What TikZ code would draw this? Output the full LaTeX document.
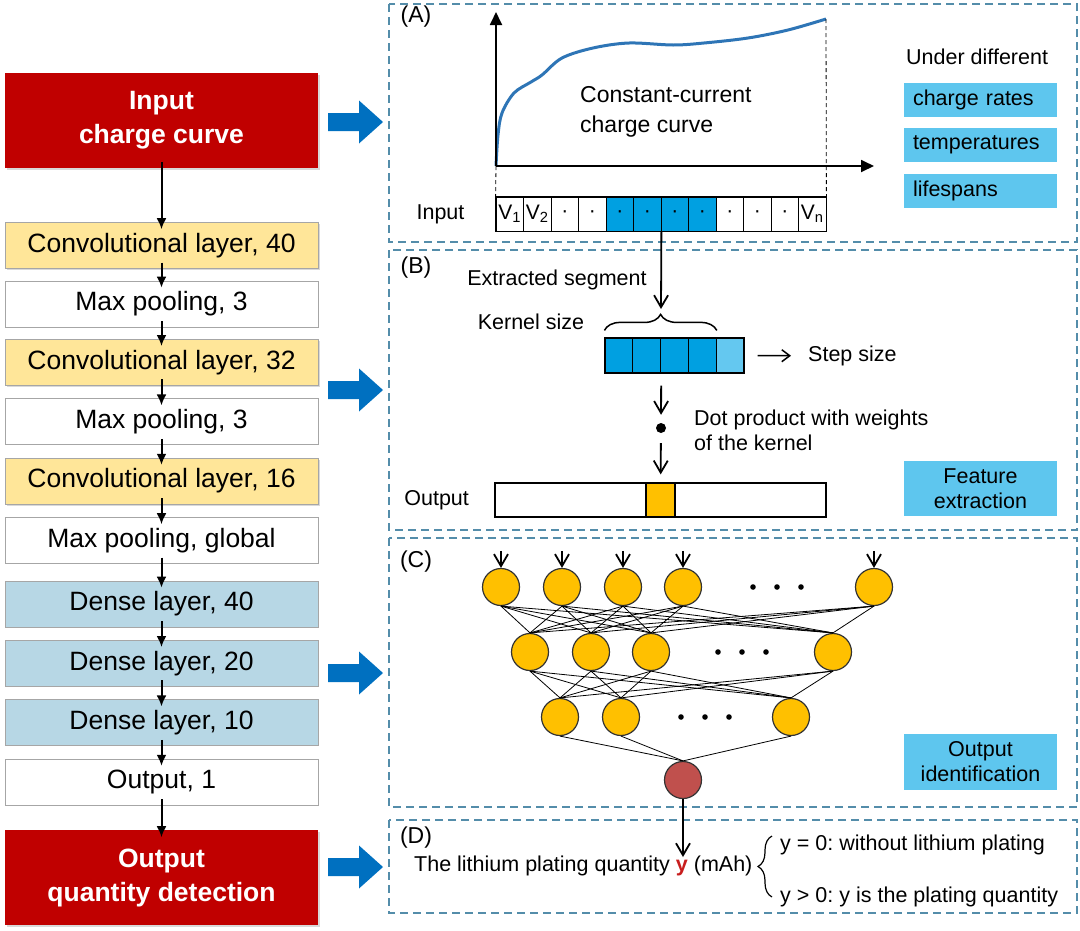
\documentclass[tikz,border=0pt]{standalone}
\usepackage{fontspec}
\setmainfont{Liberation Sans}
\usetikzlibrary{positioning,arrows.meta,decorations.pathreplacing,shadows}
\frenchspacing

\definecolor{iored}{RGB}{192,0,0}
\definecolor{convyellow}{RGB}{255,230,153}
\definecolor{denseblue}{RGB}{183,215,229}
\definecolor{arrowblue}{RGB}{0,112,192}
\definecolor{panelblue}{RGB}{84,141,170}
\definecolor{curveblue}{RGB}{46,117,182}
\definecolor{cellblue}{RGB}{0,160,225}
\definecolor{lightcell}{RGB}{100,200,240}
\definecolor{infoblue}{RGB}{94,198,238}
\definecolor{neuronorange}{RGB}{255,192,0}
\definecolor{outred}{RGB}{192,80,77}
\definecolor{yred}{RGB}{200,30,30}

\begin{document}
\begin{tikzpicture}
    [ x = 1pt, y = -1pt
    , box/.style =
      { draw=gray!70, minimum width=313pt, minimum height=46pt, inner sep=0pt
      , font=\fontsize{26.5}{30}\selectfont }
    , conv/.style =
      { box, fill=convyellow
      , drop shadow={shadow xshift=2pt, shadow yshift=-2pt, opacity=.3} }
    , pool/.style =
      { box, fill=white }
    , dense/.style =
      { box, fill=denseblue }
    , io/.style =
      { box, draw=none, fill=iored, text=white, minimum height=95pt, align=center
      , font=\fontsize{26.5}{34}\selectfont\bfseries
      , drop shadow={shadow xshift=2pt, shadow yshift=-2pt, opacity=.3} }
    , layerarrow/.style =
      { line width=2pt, -{Latex[length=11pt,width=10pt]}, shorten <=-6pt, shorten >=-7pt }
    , bigarrow/.style =
      { fill=arrowblue }
    , panel/.style =
      { draw=panelblue, dash pattern=on 8pt off 5pt, line width=1.4pt }
    , txt/.style =
      { inner sep=0pt, font=\fontsize{21.5}{25}\selectfont }
    , tag/.style =
      { inner sep=0pt, font=\fontsize{23}{25}\selectfont }
    , infobox/.style =
      { txt, fill=infoblue, text width=135pt, inner xsep=9pt, minimum height=34pt, align=left }
    , cell/.style =
      { draw, line width=.8pt, minimum width=27.5pt, minimum height=34pt, inner sep=0pt
      , font=\fontsize{21}{21}\selectfont }
    , axis/.style =
      { line width=1.8pt, -{Triangle[length=13pt,width=12pt]} }
    , curve/.style =
      { curveblue, line width=3pt }
    , guide/.style =
      { line width=.8pt, dash pattern=on 4pt off 3pt }
    , barb/.style =
      { line width=1.8pt, -{Straight Barb[length=12pt,width=14pt]} }
    , curly/.style =
      { line width=1.5pt, decorate }
    , neuron/.style =
      { draw=black!80, line width=1.2pt, circle, minimum size=37pt, inner sep=0pt, fill=neuronorange }
    , synapse/.style =
      { line width=.8pt }
    ]
    \useasboundingbox (0,0) rectangle (1080,930);

    % left column
    \node [io] (input) at (161.5,120.5) {Input\\charge curve};
    \node [conv] (conv1) [below=54pt of input] {Convolutional layer, 40};
    \node [pool] (pool1) [below=12pt of conv1] {Max pooling, 3};
    \node [conv] (conv2) [below=12pt of pool1] {Convolutional layer, 32};
    \node [pool] (pool2) [below=13pt of conv2] {Max pooling, 3};
    \node [conv] (conv3) [below=13pt of pool2] {Convolutional layer, 16};
    \node [pool] (pool3) [below=13pt of conv3] {Max pooling, global};
    \node [dense] (dense1) [below=17pt of pool3] {Dense layer, 40};
    \node [dense] (dense2) [below=13pt of dense1] {Dense layer, 20};
    \node [dense] (dense3) [below=13pt of dense2] {Dense layer, 10};
    \node [pool] (out) [below=13pt of dense3] {Output, 1};
    \node [io] (output) [below=25pt of out] {Output\\quantity detection};

    \foreach \a/\b in {input/conv1, conv1/pool1, pool1/conv2, conv2/pool2, pool2/conv3,
      conv3/pool3, pool3/dense1, dense1/dense2, dense2/dense3, dense3/out, out/output}
      \draw [layerarrow] (\a) -- (\b);

    \foreach \y in {122,390,673,867}
      \fill [bigarrow] (328,\y-9) -- (359,\y-9) -- (359,\y-21.5) -- (383,\y)
        -- (359,\y+21.5) -- (359,\y+9) -- (328,\y+9) -- cycle;

    % panels
    \draw [panel] (389,4) rectangle (1077,242);
    \draw [panel] (389,250) rectangle (1077,530);
    \draw [panel] (389,538) rectangle (1077,807);
    \draw [panel] (389,820) rectangle (1077,913);

    % (A)
    \node [tag] at (416,17) {(A)};
    \coordinate (origin) at (496,166);
    \coordinate (cend) at (826,19);
    \draw [curve] plot [smooth, tension=.55] coordinates
      {(496,166) (498,135) (502,113) (514,93) (531,82) (542,75) (562,58) (593,48)
       (629,43) (673,45) (704,43) (748,38) (788,30) (826,19)};
    \draw [axis] (origin) -- (496,12);
    \draw [axis] (origin) -- (874,166);
    \node [txt, anchor=west, align=left, font=\fontsize{23}{30}\selectfont] (cc) at (580,112)
      {Constant-current\\charge curve};

    \foreach \t/\c [count=\i] in {V\textsubscript{1}/white, V\textsubscript{2}/white,
      ·/white, ·/white, ·/cellblue, ·/cellblue, ·/cellblue, ·/cellblue,
      ·/white, ·/white, ·/white, V\textsubscript{n}/white}
      \node [cell, fill=\c] (in\i) at (496+27.5*\i-13.75,214) {\t};
    \draw [line width=1.8pt] (in1.north west) rectangle (in12.south east);
    \draw [guide] (origin) -- (in1.north west);
    \draw [guide] (cend) -- (in12.north east);
    \node [txt] (inlbl) [left=31pt of in1] {Input};

    \node [txt, anchor=west] (under) at (906,57) {Under different};
    \node [infobox] (rates) at (980.5,100) {charge rates};
    \node [infobox] (temps) at (980.5,145) {temperatures};
    \node [infobox] (lifes) at (980.5,190.5) {lifespans};

    % (B)
    \node [tag] at (416,268) {(B)};
    \node [txt] (segment) at (557,280) {Extracted segment};
    \foreach \c [count=\i] in {cellblue,cellblue,cellblue,cellblue,lightcell}
      \node [cell, fill=\c, minimum width=27.8pt, minimum height=35pt, line width=1.2pt]
        (k\i) at (605+27.8*\i-13.9,355.5) {};
    \coordinate (tip) at (661,309);
    \draw [barb] (in6.south east) -- (tip);
    \draw [curly, decoration={brace, amplitude=16pt}]
      ([yshift=7pt]k1.north west) -- ([yshift=7pt]k4.north east);
    \node [txt] (ksize) at (531,322) {Kernel size};
    \node [txt, anchor=west] (step) at (808,356) {Step size};
    \draw [line width=1.5pt, -{Straight Barb[length=8pt,width=12pt]}, shorten <=13pt, shorten >=17pt]
      (k5) -- (step);
    \node [circle, fill, minimum size=10pt, inner sep=0pt] (dot) at (661,428) {};
    \node [txt, anchor=west, align=left] (dotlbl) at (694,430) {Dot product with weights\\of the kernel};
    \node [draw, line width=1.8pt, minimum width=331pt, minimum height=34pt, inner sep=0pt]
      (outbar) at (660.5,500) {};
    \node [draw, line width=1.2pt, fill=neuronorange, minimum width=29pt, minimum height=34pt, inner sep=0pt]
      (ocell) at (660.5,500) {};
    \node [txt] (outlbl) [left=25pt of outbar] {Output};
    \draw [barb, shorten <=12pt, shorten >=8pt] (k2.south east) -- (dot);
    \draw [barb, shorten <=10pt, shorten >=8pt] (dot) -- (ocell);
    \node [infobox, align=center, minimum height=55pt] (feat) at (980.5,488.5) {Feature\\extraction};

    % (C)
    \node [tag] at (416,562) {(C)};
    \foreach \x [count=\i] in {501,562,623,683,874}
      \node [neuron] (a\i) at (\x,587) {};
    \foreach \x [count=\i] in {530,591,651,833}
      \node [neuron] (b\i) at (\x,652) {};
    \foreach \x [count=\i] in {560,621,791}
      \node [neuron] (c\i) at (\x,717) {};
    \node [neuron, fill=outred] (yout) at (683,780) {};
    \foreach \i in {1,...,5}
      \foreach \j in {1,...,4}
        \draw [synapse] (a\i.south) -- (b\j.north);
    \foreach \i in {1,...,4}
      \foreach \j in {1,...,3}
        \draw [synapse] (b\i.south) -- (c\j.north);
    \foreach \i in {1,...,3}
      \draw [synapse] (c\i.south) -- (yout.north);
    \foreach \i in {1,...,5}
      \draw [barb] ([yshift=17pt]a\i.north) -- (a\i.north);
    \foreach \x/\y in {777/587, 742/652, 705/717}
      \foreach \d in {-24,0,24}
        \fill (\x+\d,\y) circle (2.8);
    \node [infobox, align=center, minimum height=56pt] (ident) at (980.5,762) {Output\\identification};

    % (D)
    \node [tag] at (416,838) {(D)};
    \coordinate (yarrow) at (683,857);
    \draw [barb] (yout) -- (yarrow);
    \node [txt, anchor=west] (quant) at (414,866)
      {The lithium plating quantity {\color{yred}\bfseries y} (mAh)};
    \draw [curly, line width=1.2pt, decoration={brace, amplitude=14pt}] (772,897) -- (772,836);
    \node [txt, anchor=west] (zero) at (780,845) {y = 0: without lithium plating};
    \node [txt, anchor=west] (pos) at (780,897) {y > 0: y is the plating quantity};
\end{tikzpicture}
\end{document}
